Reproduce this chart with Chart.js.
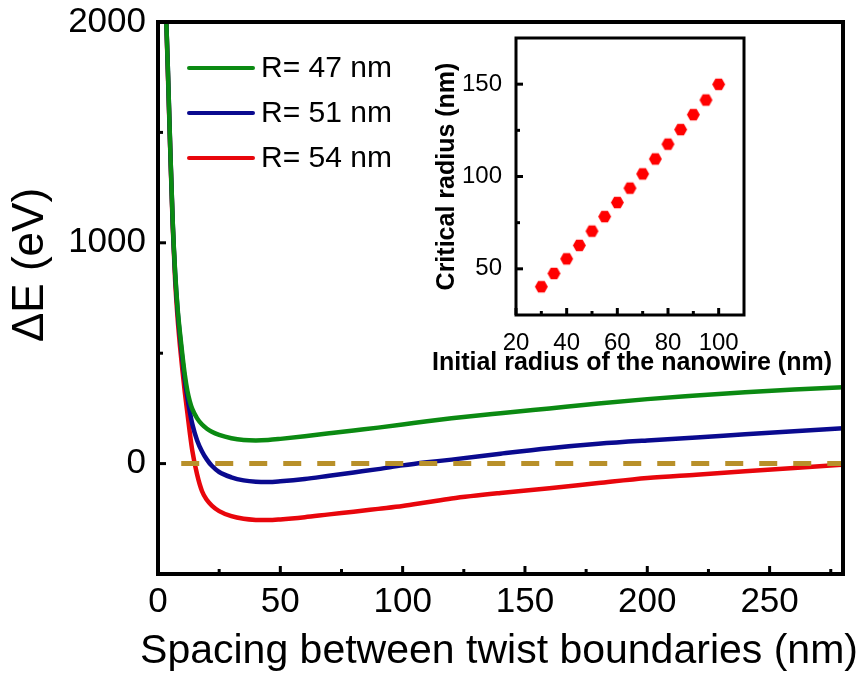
<!DOCTYPE html>
<html>
<head>
<meta charset="utf-8">
<script src="https://cdn.jsdelivr.net/npm/chart.js@4/dist/chart.umd.min.js"></script>
<style>
  body { margin: 0; background: #fff; }
  #wrap { position: relative; width: 862px; height: 681px; }
  #mainChart { position: absolute; left: 0; top: 0; }
  #insetChart { position: absolute; left: 420px; top: 28px; }
</style>
</head>
<body>
<div id="wrap">
  <canvas id="mainChart" width="862" height="681"></canvas>
  <canvas id="insetChart" width="430" height="355"></canvas>
</div>
<script>
// Spacing between twist boundaries (nm)
const spacing = [3.4, 4, 5, 6, 7, 8, 9, 10, 11, 12, 13, 14, 16, 18, 20, 22, 25, 30, 35, 40, 45, 50,
                 60, 70, 80, 90, 100, 110, 120, 140, 160, 180, 200, 220, 240, 260, 280];

// Energy difference (eV) for each wire radius
const energyR47 = [2000, 1800, 1430, 1100, 870, 705, 590, 490, 400, 330, 282, 248, 205, 177, 158, 144, 130, 115, 107, 105, 107, 112,
                   124, 137, 150, 163, 177, 192, 205, 228, 250, 272, 292, 308, 323, 336, 346];
const energyR51 = [2000, 1800, 1430, 1095, 860, 695, 575, 470, 375, 300, 235, 180, 105, 55, 18, -10, -38, -62, -76, -82, -83, -80,
                   -70, -55, -40, -25, -8, 6, 18, 45, 70, 90, 105, 118, 133, 147, 160];
const energyR54 = [2000, 1780, 1420, 1080, 830, 660, 530, 420, 320, 230, 140, 60, -50, -125, -165, -190, -215, -238, -250, -255, -256, -253,
                   -243, -230, -218, -205, -192, -175, -158, -133, -112, -88, -65, -50, -35, -20, -5];

const seriesLabels = ['R= 47 nm', 'R= 51 nm', 'R= 54 nm'];
const seriesColors = ['#0b8a12', '#0a0a8f', '#e8060c'];

// zero reference line
const zeroLineX = [9.5, 280];
const zeroLineY = [0, 0];

// axis ticks
const xMajorTicks = [0, 50, 100, 150, 200, 250];
const xMinorTicks = [25, 75, 125, 175, 225, 275];
const yMajorTicks = [0, 1000, 2000];
const yMinorTicks = [500, 1500];

// inset: critical radius vs initial radius of the nanowire
const initialRadius = [30, 35, 40, 45, 50, 55, 60, 65, 70, 75, 80, 85, 90, 95, 100];
const criticalRadius = [40.3, 47.5, 55.4, 62.7, 70.4, 78.3, 85.9, 93.7, 101.4, 109.5, 117.5, 125.4, 133.5, 141.4, 149.9];

const insetXMajor = [20, 40, 60, 80, 100];
const insetXMinor = [30, 50, 70, 90];
const insetYMajor = [50, 100, 150];
const insetYMinor = [75, 125];

const FONT = "'Liberation Sans', Arial, sans-serif";
Chart.defaults.font.family = FONT;
Chart.defaults.color = '#000';

const toPoints = (xs, ys) => xs.map((x, i) => ({ x: x, y: ys[i] }));
const plainNumber = v => String(v);

// no extra room for overhanging tick labels, the plot box is fixed
const noLabelPadding = s => {
    s.paddingTop = 0;
    s.paddingBottom = 0;
    s.paddingLeft = 0;
    s.paddingRight = 0;
};

// frame around the plot area with ticks pointing inward
const frameTicks = {
    id: 'frameTicks',
    afterDatasetsDraw(chart, args, opts) {
        const { ctx, chartArea: a, scales } = chart;
        ctx.save();
        ctx.strokeStyle = '#000';
        ctx.lineCap = 'butt';
        ctx.lineWidth = opts.tickWidth;
        const tick = (x1, y1, x2, y2) => {
            ctx.beginPath();
            ctx.moveTo(x1, y1);
            ctx.lineTo(x2, y2);
            ctx.stroke();
        };
        opts.xMajor.forEach(v => { const px = scales.x.getPixelForValue(v); tick(px, a.bottom, px, a.bottom - opts.major); });
        opts.xMinor.forEach(v => { const px = scales.x.getPixelForValue(v); tick(px, a.bottom, px, a.bottom - opts.minor); });
        opts.yMajor.forEach(v => { const py = scales.y.getPixelForValue(v); tick(a.left, py, a.left + opts.major, py); });
        opts.yMinor.forEach(v => { const py = scales.y.getPixelForValue(v); tick(a.left, py, a.left + opts.minor, py); });
        ctx.lineWidth = opts.frameWidth;
        ctx.strokeRect(a.left, a.top, a.right - a.left, a.bottom - a.top);
        ctx.restore();
    }
};

// axis titles placed by hand (rotation in radians)
const freeTitles = {
    id: 'freeTitles',
    afterDraw(chart, args, opts) {
        const ctx = chart.ctx;
        opts.items.forEach(t => {
            ctx.save();
            ctx.translate(t.x, t.y);
            ctx.rotate(t.rotate || 0);
            ctx.font = t.font;
            ctx.fillStyle = '#000';
            ctx.textAlign = 'center';
            ctx.textBaseline = 'middle';
            ctx.fillText(t.text, 0, 0);
            ctx.restore();
        });
    }
};

// legend with short line samples, drawn inside the plot area
const lineLegend = {
    id: 'lineLegend',
    afterDraw(chart, args, opts) {
        const ctx = chart.ctx;
        ctx.save();
        ctx.font = opts.font;
        ctx.textBaseline = 'middle';
        ctx.lineCap = 'round';
        let row = 0;
        chart.data.datasets.forEach(ds => {
            if (!ds.inLegend) return;
            const y = opts.top + row * opts.rowGap;
            ctx.strokeStyle = ds.borderColor;
            ctx.lineWidth = 4;
            ctx.beginPath();
            ctx.moveTo(opts.left, y);
            ctx.lineTo(opts.left + opts.lineLength, y);
            ctx.stroke();
            ctx.fillStyle = '#000';
            ctx.fillText(ds.label, opts.left + opts.lineLength + opts.gap, y + 1);
            row++;
        });
        ctx.restore();
    }
};

// main chart
const mainDatasets = [{
    label: 'zero',
    data: toPoints(zeroLineX, zeroLineY),
    borderColor: '#b8902a',
    borderWidth: 5,
    borderDash: [18, 16],
    pointRadius: 0,
    inLegend: false
}];
[energyR47, energyR51, energyR54].forEach((ys, i) => {
    mainDatasets.push({
        label: seriesLabels[i],
        data: toPoints(spacing, ys),
        borderColor: seriesColors[i],
        borderWidth: 4.5,
        pointRadius: 0,
        cubicInterpolationMode: 'monotone',
        inLegend: true
    });
});

new Chart(document.getElementById('mainChart'), {
    type: 'line',
    data: { datasets: mainDatasets },
    options: {
        responsive: false,
        animation: false,
        layout: { padding: { top: 22, right: 19, left: 0, bottom: 0 } },
        scales: {
            x: {
                type: 'linear',
                min: 0,
                max: 280,
                grid: { display: false, drawTicks: false },
                border: { display: false },
                afterFit: s => { s.height = 107; noLabelPadding(s); },
                afterBuildTicks: s => { s.ticks = xMajorTicks.map(v => ({ value: v })); },
                ticks: { font: { size: 35 }, padding: 7, maxRotation: 0, callback: plainNumber }
            },
            y: {
                type: 'linear',
                min: -500,
                max: 2000,
                grid: { display: false, drawTicks: false },
                border: { display: false },
                afterFit: s => { s.width = 158; noLabelPadding(s); },
                afterBuildTicks: s => { s.ticks = yMajorTicks.map(v => ({ value: v })); },
                ticks: { font: { size: 35 }, padding: 12, callback: plainNumber }
            }
        },
        plugins: {
            legend: { display: false },
            tooltip: { enabled: false },
            frameTicks: { xMajor: xMajorTicks, xMinor: xMinorTicks, yMajor: yMajorTicks, yMinor: yMinorTicks,
                          major: 8, minor: 5, tickWidth: 3, frameWidth: 4 },
            freeTitles: { items: [
                { text: 'ΔE (eV)', x: 31, y: 265, rotate: -Math.PI / 2, font: '44px ' + FONT },
                { text: 'Spacing between twist boundaries (nm)', x: 499, y: 652, font: '41px ' + FONT }
            ] },
            lineLegend: { left: 189, top: 68, rowGap: 45, lineLength: 64, gap: 8, font: '30px ' + FONT }
        }
    },
    plugins: [frameTicks, freeTitles, lineLegend]
});

// red hexagon marker for the inset
function hexagon(r, color) {
    const c = document.createElement('canvas');
    c.width = c.height = 2 * r + 2;
    const g = c.getContext('2d');
    g.fillStyle = color;
    g.beginPath();
    for (let k = 0; k < 6; k++) {
        const ang = Math.PI / 3 * k;
        const px = r + 1 + r * Math.cos(ang);
        const py = r + 1 + r * Math.sin(ang);
        if (k === 0) g.moveTo(px, py); else g.lineTo(px, py);
    }
    g.closePath();
    g.fill();
    return c;
}

new Chart(document.getElementById('insetChart'), {
    type: 'scatter',
    data: {
        datasets: [{
            label: 'Critical radius',
            data: toPoints(initialRadius, criticalRadius),
            pointStyle: hexagon(6.5, '#ff0000'),
            pointRadius: 6.5,
            showLine: false
        }]
    },
    options: {
        responsive: false,
        animation: false,
        layout: { padding: { top: 10, right: 106, left: 0, bottom: 0 } },
        scales: {
            x: {
                type: 'linear',
                min: 20,
                max: 110,
                grid: { display: false, drawTicks: false },
                border: { display: false },
                afterFit: s => { s.height = 68; noLabelPadding(s); },
                afterBuildTicks: s => { s.ticks = insetXMajor.map(v => ({ value: v })); },
                ticks: { font: { size: 24 }, padding: 14, maxRotation: 0 }
            },
            y: {
                type: 'linear',
                min: 25,
                max: 175,
                grid: { display: false, drawTicks: false },
                border: { display: false },
                afterFit: s => { s.width = 96; noLabelPadding(s); },
                afterBuildTicks: s => { s.ticks = insetYMajor.map(v => ({ value: v })); },
                ticks: { font: { size: 24 }, padding: 14 },
                title: { display: true, text: 'Critical radius (nm)', font: { size: 25, weight: 'bold' }, padding: { top: 12, bottom: 0 } }
            }
        },
        plugins: {
            legend: { display: false },
            tooltip: { enabled: false },
            frameTicks: { xMajor: insetXMajor, xMinor: insetXMinor, yMajor: insetYMajor, yMinor: insetYMinor,
                          major: 7, minor: 4, tickWidth: 3, frameWidth: 3 },
            freeTitles: { items: [{ text: 'Initial radius of the nanowire (nm)', x: 212, y: 335, font: 'bold 25px ' + FONT }] }
        }
    },
    plugins: [frameTicks, freeTitles]
});
</script>
</body>
</html>
